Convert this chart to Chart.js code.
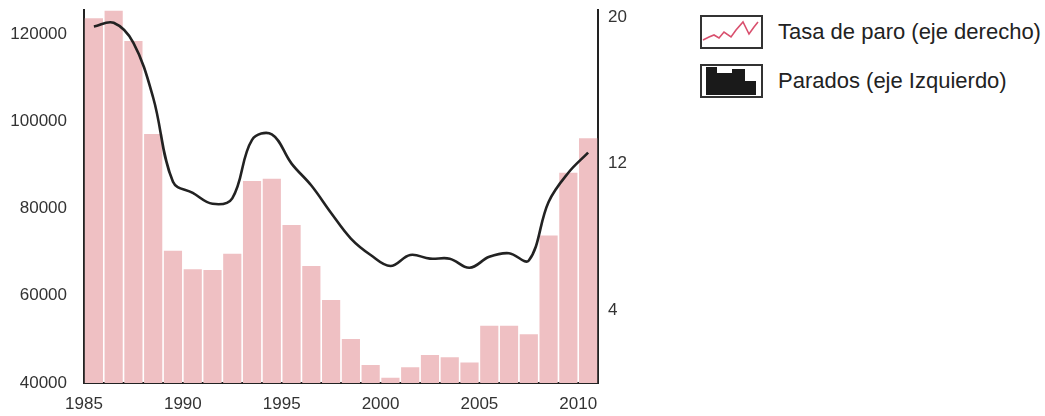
<!DOCTYPE html>
<html>
<head>
<meta charset="utf-8">
<script src="https://cdn.jsdelivr.net/npm/chart.js@4"></script>
<style>
  body { margin: 0; background: #fff; }
  #wrap { position: relative; width: 1045px; height: 416px; overflow: hidden; }
  #chartBox { position: absolute; left: 0; top: 0; width: 640px; height: 416px; }
  .legend { position: absolute; left: 700px; font-family: "Liberation Sans", Arial, sans-serif; font-size: 22px; color: #222; }
  .legend .row { position: absolute; left: 0; width: 345px; height: 34px; }
  .legend svg { position: absolute; left: 0; top: 0; }
  .legend span { position: absolute; left: 78px; top: 50%; transform: translateY(-50%); white-space: nowrap; }
</style>
</head>
<body>
<div id="wrap">
  <div id="chartBox"><canvas id="paroChart"></canvas></div>
  <div class="legend">
    <div class="row" style="top:15px">
      <svg width="63" height="34" viewBox="0 0 63 34">
        <rect x="1" y="1" width="61" height="32" fill="#fff" stroke="#333" stroke-width="2"/>
        <polyline fill="none" stroke="#d9506e" stroke-width="1.6"
          points="3,25 9,22 14,20 19,23 24,17 31,22 36,15 43,7 49,19 54,12 58,7"/>
      </svg>
      <span>Tasa de paro (eje derecho)</span>
    </div>
    <div class="row" style="top:64px">
      <svg width="63" height="34" viewBox="0 0 63 34">
        <rect x="1" y="1" width="61" height="32" fill="#fff" stroke="#333" stroke-width="2"/>
        <polygon fill="#1a1a1a" points="6,31 6,3 17,3 17,9 32,9 32,5 45,5 45,17 56,17 56,31"/>
      </svg>
      <span>Parados (eje Izquierdo)</span>
    </div>
  </div>
</div>
<script>
  // Years (each bar spans a full year)
  const years = [1985, 1986, 1987, 1988, 1989, 1990, 1991, 1992, 1993, 1994,
                 1995, 1996, 1997, 1998, 1999, 2000, 2001, 2002, 2003, 2004,
                 2005, 2006, 2007, 2008, 2009, 2010];

  // Parados (left axis)
  const parados = [123600, 125300, 118400, 97100, 70300, 66100, 65900, 69600, 86300, 86800,
                   76200, 66800, 59000, 50100, 44100, 41200, 43600, 46400, 45900, 44700,
                   53100, 53100, 51200, 73800, 88200, 96100];

  // Tasa de paro (right axis, %)
  const tasaParo = [19.5, 19.7, 18.6, 15.6, 11.0, 10.4, 9.8, 10.1, 13.3, 13.6,
                    12.0, 10.8, 9.3, 7.9, 7.0, 6.4, 7.0, 6.8, 6.8, 6.3,
                    6.9, 7.1, 6.7, 9.9, 11.5, 12.6];

  // Tick labels
  const yearTicks = [1985, 1990, 1995, 2000, 2005, 2010];
  const paradosTicks = [40000, 60000, 80000, 100000, 120000];
  const tasaTicks = [4, 12, 20];

  const tickFont = { family: "'Liberation Sans', Arial, sans-serif", size: 17 };
  const inkColor = "#333";

  // place each yearly value in the middle of its year
  const barPoints = parados.map(function (v, i) { return { x: years[i] + 0.5, y: v }; });
  const linePoints = tasaParo.map(function (v, i) { return { x: years[i] + 0.5, y: v }; });

  function fixedTicks(list) {
    return function (scale) {
      scale.ticks = list.map(function (v) { return { value: v }; });
    };
  }

  // fixed box sizes so the plot area lands where the original one is
  function fitWidth(w) {
    return function (scale) {
      scale.width = w;
      scale.paddingTop = 0;
      scale.paddingBottom = 0;
    };
  }

  const ctx = document.getElementById("paroChart").getContext("2d");
  new Chart(ctx, {
    data: {
      datasets: [
        {
          type: "line",
          label: "Tasa de paro (eje derecho)",
          data: linePoints,
          yAxisID: "y1",
          borderColor: "#222",
          borderWidth: 2.6,
          pointRadius: 0,
          tension: 0.38,
          fill: false,
          order: 0
        },
        {
          type: "bar",
          label: "Parados (eje Izquierdo)",
          data: barPoints,
          yAxisID: "y",
          backgroundColor: "#efc0c3",
          borderWidth: 0,
          barPercentage: 0.92,
          categoryPercentage: 1,
          order: 1
        }
      ]
    },
    options: {
      responsive: true,
      maintainAspectRatio: false,
      animation: false,
      layout: { padding: { top: 10, left: 0, right: 0, bottom: 0 } },
      plugins: {
        legend: { display: false },
        tooltip: { enabled: false }
      },
      scales: {
        x: {
          type: "linear",
          offset: false,
          min: 1985,
          max: 2011,
          grid: { display: false, drawTicks: false },
          border: { display: true, color: "#222", width: 2 },
          afterBuildTicks: fixedTicks(yearTicks),
          afterFit: function (scale) {
            scale.height = 33;
            scale.paddingLeft = 0;
            scale.paddingRight = 0;
          },
          ticks: {
            font: tickFont,
            color: inkColor,
            padding: 11,
            maxRotation: 0,
            callback: function (v) { return String(v); }
          }
        },
        y: {
          type: "linear",
          position: "left",
          min: 40000,
          max: 125500,
          grid: { display: false, drawTicks: false },
          border: { display: true, color: "#222", width: 2 },
          afterBuildTicks: fixedTicks(paradosTicks),
          afterFit: fitWidth(84),
          ticks: {
            font: tickFont,
            color: inkColor,
            padding: 17,
            callback: function (v) { return String(v); }
          }
        },
        y1: {
          type: "linear",
          position: "right",
          min: 0,
          max: 20.4,
          grid: { display: false, drawTicks: false },
          border: { display: true, color: "#222", width: 2 },
          afterBuildTicks: fixedTicks(tasaTicks),
          afterFit: fitWidth(42),
          ticks: {
            font: tickFont,
            color: inkColor,
            padding: 10,
            callback: function (v) { return String(v); }
          }
        }
      }
    }
  });
</script>
</body>
</html>
